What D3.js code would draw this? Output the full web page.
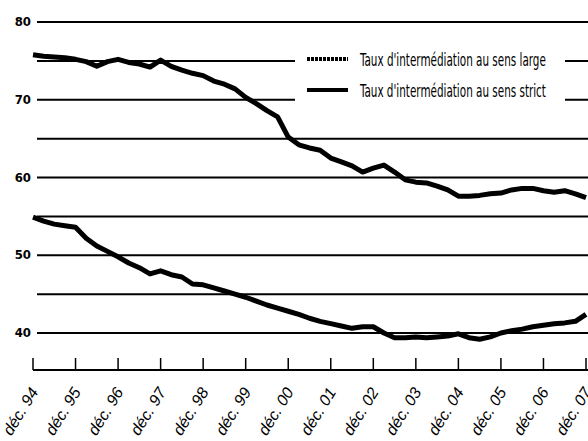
<!DOCTYPE html>
<html>
<head>
<meta charset="utf-8">
<script src="https://cdn.jsdelivr.net/npm/d3@7"></script>
<style>
	body { margin: 0; background: #fff; }
	svg { display: block; }
</style>
</head>
<body>
<div id="chart"></div>
<script>

// Quarterly data, dec. 94 -> dec. 07 (53 points)
var years = ['94', '95', '96', '97', '98', '99', '00', '01', '02', '03', '04', '05', '06', '07'];

var sensLarge = [
	75.8, 75.6, 75.5, 75.4, 75.2, 74.9, 74.3, 74.9, 75.2, 74.8, 74.6, 74.2, 75.1,
	74.3, 73.8, 73.4, 73.1, 72.4, 72.0, 71.4, 70.3, 69.5, 68.6, 67.8, 65.2,
	64.2, 63.8, 63.5, 62.5, 62.0, 61.5, 60.7, 61.2, 61.6, 60.7, 59.7, 59.4,
	59.3, 58.9, 58.4, 57.6, 57.6, 57.7, 57.9, 58.0, 58.4, 58.6, 58.6, 58.3,
	58.1, 58.3, 57.9, 57.4
];

var sensStrict = [
	54.9, 54.4, 54.0, 53.8, 53.6, 52.2, 51.2, 50.5, 49.8, 49.0, 48.4, 47.6, 48.0,
	47.5, 47.2, 46.3, 46.2, 45.8, 45.4, 45.0, 44.6, 44.1, 43.6, 43.2, 42.8,
	42.4, 41.9, 41.5, 41.2, 40.9, 40.6, 40.8, 40.8, 40.0, 39.4, 39.4, 39.5,
	39.4, 39.5, 39.6, 39.9, 39.4, 39.2, 39.5, 40.0, 40.3, 40.5, 40.8, 41.0,
	41.2, 41.3, 41.5, 42.4
];

var gridValues = [80, 75, 70, 65, 60, 55, 50, 45, 40];
var yLabels = [80, 70, 60, 50, 40];

var legendLabels = [
	"Taux d'intermédiation au sens large",
	"Taux d'intermédiation au sens strict"
];


var width = 588, height = 441;

var svg = d3.select('#chart').append('svg')
	.attr('width', width)
	.attr('height', height);

var x = d3.scaleLinear().domain([0, sensLarge.length - 1]).range([33, 586]);
var y = d3.scaleLinear().domain([40, 80]).range([333, 22]);

// Horizontal grid lines
svg.selectAll('line.grid')
	.data(gridValues)
	.enter()
	.append('line')
	.attr('class', 'grid')
	.attr('x1', 37).attr('x2', width)
	.attr('y1', (d) => y(d)).attr('y2', (d) => y(d))
	.attr('stroke', '#000')
	.attr('stroke-width', 2);

// Y labels (only every 10)
svg.selectAll('text.ylab')
	.data(yLabels)
	.enter()
	.append('text')
	.attr('class', 'ylab')
	.attr('x', 31)
	.attr('y', (d) => y(d) + 4)
	.attr('text-anchor', 'end')
	.style('font-family', '"Liberation Sans Narrow", "DejaVu Sans Condensed", sans-serif')
	.style('font-weight', 'bold')
	.style('font-size', '13px')
	.text((d) => d);

// X axis: line + upward ticks every 4 quarters
var axisY = 370;

svg.append('line')
	.attr('x1', 33).attr('x2', width)
	.attr('y1', axisY).attr('y2', axisY)
	.attr('stroke', '#000')
	.attr('stroke-width', 2);

svg.selectAll('line.tick')
	.data(years)
	.enter()
	.append('line')
	.attr('class', 'tick')
	.attr('x1', (d, i) => x(i * 4)).attr('x2', (d, i) => x(i * 4))
	.attr('y1', axisY - 12).attr('y2', axisY)
	.attr('stroke', '#000')
	.attr('stroke-width', 1.5);

svg.selectAll('text.xlab')
	.data(years)
	.enter()
	.append('text')
	.attr('class', 'xlab')
	.attr('transform', (d, i) => 'translate(' + (x(i * 4) + 6) + ',' + (axisY + 22) + ') rotate(-58)')
	.attr('text-anchor', 'end')
	.style('font-family', '"Liberation Sans", Arial, sans-serif')
	.style('font-style', 'italic')
	.style('font-size', '16px')
	.text((d) => 'déc. ' + d);

// Series lines
var line = d3.line()
	.x((d, i) => x(i))
	.y((d) => y(d));

[sensLarge, sensStrict].forEach(function(series) {

	svg.append('path')
		.datum(series)
		.attr('d', line)
		.attr('fill', 'none')
		.attr('stroke', '#000')
		.attr('stroke-width', 5)
		.attr('stroke-linejoin', 'round');
});

// Legend, white box hides the grid lines behind it
var legend = svg.append('g');

legend.append('rect')
	.attr('x', 295).attr('y', 42)
	.attr('width', 270).attr('height', 68)
	.attr('fill', '#fff');

legend.selectAll('line')
	.data(legendLabels)
	.enter()
	.append('line')
	.attr('x1', 307).attr('x2', 348)
	.attr('y1', (d, i) => 59 + i * 31).attr('y2', (d, i) => 59 + i * 31)
	.attr('stroke', '#000')
	.attr('stroke-width', 4)
	.attr('stroke-dasharray', (d, i) => i == 0 ? '3,1' : null);

// Condensed text: squeeze each label horizontally to the reference width
var legendText = legend.selectAll('g.ltext')
	.data(legendLabels)
	.enter()
	.append('g')
	.attr('class', 'ltext');

legendText.append('text')
	.style('font-family', '"Liberation Sans Narrow", "DejaVu Sans Condensed", sans-serif')
	.style('font-size', '18px')
	.text((d) => d);

legendText.attr('transform', function(d, i) {
	var w = this.querySelector('text').getComputedTextLength();
	return 'translate(360,' + (66 + i * 31) + ') scale(' + (186 / w) + ',1)';
});

</script>
</body>
</html>
